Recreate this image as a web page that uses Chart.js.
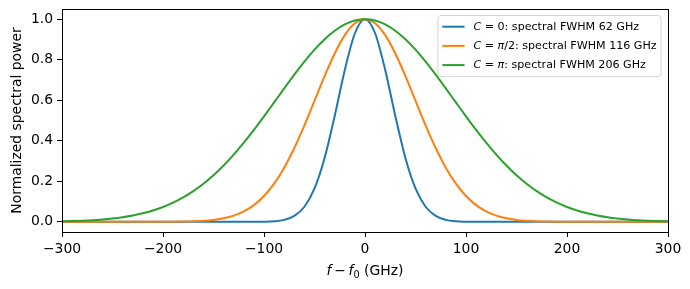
<!DOCTYPE html>
<html>
<head>
<meta charset="utf-8">
<script src="https://cdn.jsdelivr.net/npm/chart.js@4"></script>
<style>
  html, body { margin: 0; padding: 0; background: #fff; }
  #wrap { width: 690px; height: 289px; }
</style>
</head>
<body>
<div id="wrap"><canvas id="specChart"></canvas></div>
<script>
// Frequency offset f - f0 (GHz)
const freq = [-300, -290, -280, -270, -260, -250, -240, -230, -220, -210,
  -200, -190, -180, -170, -160, -150, -140, -130, -120, -110,
  -100, -90, -80, -70, -60, -50, -40, -30, -20, -10,
  0, 10, 20, 30, 40, 50, 60, 70, 80, 90,
  100, 110, 120, 130, 140, 150, 160, 170, 180, 190,
  200, 210, 220, 230, 240, 250, 260, 270, 280, 290, 300];

// C = 0
const powerC0 = [0, 0, 0, 0, 0, 0, 0, 0, 0, 0,
  0, 0, 0, 0, 0, 0, 0, 0, 0, 0.0002,
  0.0007, 0.0029, 0.0099, 0.0292, 0.0745, 0.1648, 0.3153, 0.5225, 0.7494, 0.9304,
  1, 0.9304, 0.7494, 0.5225, 0.3153, 0.1648, 0.0745, 0.0292, 0.0099, 0.0029,
  0.0007, 0.0002, 0, 0, 0, 0, 0, 0, 0, 0,
  0, 0, 0, 0, 0, 0, 0, 0, 0, 0, 0];

// C = pi/2
const powerCHalfPi = [0, 0, 0, 0, 0, 0, 0, 0, 0, 0,
  0.0003, 0.0006, 0.0013, 0.0026, 0.0051, 0.0097, 0.0176, 0.0307, 0.0514, 0.0826,
  0.1274, 0.1884, 0.2675, 0.3644, 0.4763, 0.5975, 0.7192, 0.8307, 0.9209, 0.9796,
  1, 0.9796, 0.9209, 0.8307, 0.7192, 0.5975, 0.4763, 0.3644, 0.2675, 0.1884,
  0.1274, 0.0826, 0.0514, 0.0307, 0.0176, 0.0097, 0.0051, 0.0026, 0.0013, 0.0006,
  0.0003, 0, 0, 0, 0, 0, 0, 0, 0, 0, 0];

// C = pi
const powerCPi = [0.0028, 0.0041, 0.0060, 0.0085, 0.0121, 0.0168, 0.0232, 0.0316, 0.0423, 0.0561,
  0.0733, 0.0946, 0.1204, 0.1513, 0.1877, 0.2299, 0.2779, 0.3315, 0.3903, 0.4536,
  0.5203, 0.5891, 0.6583, 0.7261, 0.7904, 0.8493, 0.9007, 0.9429, 0.9742, 0.9935,
  1, 0.9935, 0.9742, 0.9429, 0.9007, 0.8493, 0.7904, 0.7261, 0.6583, 0.5891,
  0.5203, 0.4536, 0.3903, 0.3315, 0.2779, 0.2299, 0.1877, 0.1513, 0.1204, 0.0946,
  0.0733, 0.0561, 0.0423, 0.0316, 0.0232, 0.0168, 0.0121, 0.0085, 0.0060, 0.0041, 0.0028];

const chirpLabels = ['0', 'π/2', 'π'];
const fwhmGHz = [62, 116, 206];
const xTicks = [-300, -200, -100, 0, 100, 200, 300];
const yTicks = [0, 0.2, 0.4, 0.6, 0.8, 1.0];

const colors = ['#1f77b4', '#ff7f0e', '#2ca02c'];
const FONT = '"DejaVu Sans", sans-serif';

function toPoints(vals) {
  return freq.map((f, i) => ({ x: f, y: vals[i] }));
}

// draw (or just measure) a run of plain / italic / subscript text pieces
function drawRuns(ctx, runs, x, y, size, measureOnly) {
  let cx = x;
  runs.forEach(r => {
    const s = r.sub ? size * 0.7 : size;
    ctx.font = (r.italic ? 'italic ' : '') + s + 'px ' + FONT;
    if (!measureOnly) ctx.fillText(r.t, cx, r.sub ? y + size * 0.22 : y);
    cx += ctx.measureText(r.t).width;
  });
  return cx - x;
}

function legendRuns(i) {
  const runs = [{ t: 'C', italic: true }, { t: ' = ' }];
  const c = chirpLabels[i];
  if (c === '0') runs.push({ t: '0' });
  else {
    runs.push({ t: 'π', italic: true });
    if (c.length > 1) runs.push({ t: c.slice(1) });
  }
  runs.push({ t: ': spectral FWHM ' + fwhmGHz[i] + ' GHz' });
  return runs;
}

const framePlugin = {
  id: 'frame',
  afterDraw(chart) {
    const ctx = chart.ctx;
    const a = chart.chartArea;
    ctx.save();
    ctx.strokeStyle = '#000';
    ctx.lineWidth = 1;
    ctx.strokeRect(Math.round(a.left) + 0.5, Math.round(a.top) + 0.5,
      Math.round(a.right - a.left), Math.round(a.bottom - a.top));

    // x axis title
    ctx.fillStyle = '#000';
    ctx.textBaseline = 'alphabetic';
    const xr = [{ t: 'f', italic: true }, { t: '\u2009−\u2009' }, { t: 'f', italic: true }, { t: '0', sub: true }, { t: ' (GHz)' }];
    const w = drawRuns(ctx, xr, 0, 0, 13.9, true);
    drawRuns(ctx, xr, (a.left + a.right) / 2 - w / 2, 275, 13.9, false);

    // legend box
    const fs = 11.1;
    let maxW = 0;
    chart.data.datasets.forEach((d, i) => {
      maxW = Math.max(maxW, drawRuns(ctx, legendRuns(i), 0, 0, fs, true));
    });
    const boxW = 4.4 + 22.2 + 8.9 + maxW + 4.4;
    const boxH = 61.2;
    const bx = a.right - 7 - boxW;
    const by = a.top + 6.5;
    ctx.beginPath();
    ctx.roundRect(bx, by, boxW, boxH, 3);
    ctx.fillStyle = 'rgba(255,255,255,0.8)';
    ctx.fill();
    ctx.strokeStyle = '#d5d5d5';
    ctx.lineWidth = 1;
    ctx.stroke();

    ctx.textBaseline = 'middle';
    chart.data.datasets.forEach((d, i) => {
      const ry = by + 11.2 + i * 19.2;
      ctx.strokeStyle = d.borderColor;
      ctx.lineWidth = 2;
      ctx.beginPath();
      ctx.moveTo(bx + 4.4, ry);
      ctx.lineTo(bx + 4.4 + 22.2, ry);
      ctx.stroke();
      ctx.fillStyle = '#000';
      drawRuns(ctx, legendRuns(i), bx + 4.4 + 22.2 + 8.9, ry, fs, false);
    });
    ctx.restore();
  }
};

const ctx = document.getElementById('specChart').getContext('2d');

new Chart(ctx, {
  type: 'line',
  data: {
    datasets: [
      { label: 'C = 0', data: toPoints(powerC0), borderColor: colors[0], order: 2 },
      { label: 'C = π/2', data: toPoints(powerCHalfPi), borderColor: colors[1], order: 1 },
      { label: 'C = π', data: toPoints(powerCPi), borderColor: colors[2], order: 0 }
    ]
  },
  options: {
    responsive: true,
    maintainAspectRatio: false,
    animation: false,
    layout: { padding: { left: 0, right: 22, top: 9, bottom: 0 } },
    elements: {
      line: { borderWidth: 2, cubicInterpolationMode: 'monotone', fill: false },
      point: { radius: 0 }
    },
    scales: {
      x: {
        type: 'linear',
        min: -300,
        max: 300,
        afterBuildTicks: s => { s.ticks = xTicks.map(v => ({ value: v })); },
        afterFit: s => { s.height = 57; s.paddingLeft = 0; s.paddingRight = 0; },
        grid: { drawOnChartArea: false, drawTicks: true, tickLength: 5, color: '#000' },
        border: { display: false },
        ticks: {
          color: '#000',
          padding: 4,
          maxRotation: 0,
          autoSkip: false,
          font: { family: FONT, size: 13.9 },
          callback: v => String(v).replace('-', '−')
        }
      },
      y: {
        min: -0.05,
        max: 1.05,
        afterBuildTicks: s => { s.ticks = yTicks.map(v => ({ value: v })); },
        afterFit: s => { s.width = 62; s.paddingTop = 0; s.paddingBottom = 0; },
        grid: { drawOnChartArea: false, drawTicks: true, tickLength: 5, color: '#000' },
        border: { display: false },
        ticks: {
          color: '#000',
          padding: 4,
          font: { family: FONT, size: 13.9 },
          callback: v => v.toFixed(1)
        },
        title: {
          display: true,
          text: 'Normalized spectral power',
          color: '#000',
          padding: { top: 9, bottom: 0 },
          font: { family: FONT, size: 13.9 }
        }
      }
    },
    plugins: {
      legend: { display: false },
      tooltip: { enabled: false }
    }
  },
  plugins: [framePlugin]
});
</script>
</body>
</html>
